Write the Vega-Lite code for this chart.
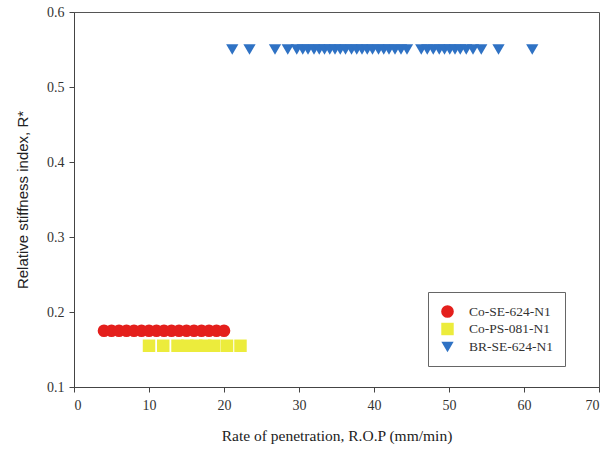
{
  "$schema": "https://vega.github.io/schema/vega-lite/v6.json",
  "width": 525,
  "height": 375,
  "autosize": {"type": "none"},
  "padding": {"left": 74, "top": 12, "right": 14, "bottom": 67},
  "background": "white",
  "config": {
    "view": {"stroke": "#555", "strokeWidth": 1},
    "axis": {"grid": false, "domainColor": "#444", "tickColor": "#444", "labelColor": "#333", "titleColor": "#222", "titleFontWeight": "normal", "tickSize": 5}
  },
  "data": {"values": [
    {"s": "Co-SE-624-N1", "x": 4, "y": 0.175},
    {"s": "Co-SE-624-N1", "x": 5, "y": 0.175},
    {"s": "Co-SE-624-N1", "x": 6, "y": 0.175},
    {"s": "Co-SE-624-N1", "x": 7, "y": 0.175},
    {"s": "Co-SE-624-N1", "x": 8, "y": 0.175},
    {"s": "Co-SE-624-N1", "x": 9, "y": 0.175},
    {"s": "Co-SE-624-N1", "x": 10, "y": 0.175},
    {"s": "Co-SE-624-N1", "x": 11, "y": 0.175},
    {"s": "Co-SE-624-N1", "x": 12, "y": 0.175},
    {"s": "Co-SE-624-N1", "x": 13, "y": 0.175},
    {"s": "Co-SE-624-N1", "x": 14, "y": 0.175},
    {"s": "Co-SE-624-N1", "x": 15, "y": 0.175},
    {"s": "Co-SE-624-N1", "x": 16, "y": 0.175},
    {"s": "Co-SE-624-N1", "x": 17, "y": 0.175},
    {"s": "Co-SE-624-N1", "x": 18, "y": 0.175},
    {"s": "Co-SE-624-N1", "x": 19, "y": 0.175},
    {"s": "Co-SE-624-N1", "x": 20, "y": 0.175},
    {"s": "Co-PS-081-N1", "x": 10, "y": 0.155},
    {"s": "Co-PS-081-N1", "x": 11.9, "y": 0.155},
    {"s": "Co-PS-081-N1", "x": 13.8, "y": 0.155},
    {"s": "Co-PS-081-N1", "x": 15.1, "y": 0.155},
    {"s": "Co-PS-081-N1", "x": 16.3, "y": 0.155},
    {"s": "Co-PS-081-N1", "x": 17.5, "y": 0.155},
    {"s": "Co-PS-081-N1", "x": 18.7, "y": 0.155},
    {"s": "Co-PS-081-N1", "x": 20.4, "y": 0.155},
    {"s": "Co-PS-081-N1", "x": 22.2, "y": 0.155},
    {"s": "BR-SE-624-N1", "x": 21.1, "y": 0.55},
    {"s": "BR-SE-624-N1", "x": 23.4, "y": 0.55},
    {"s": "BR-SE-624-N1", "x": 26.8, "y": 0.55},
    {"s": "BR-SE-624-N1", "x": 28.5, "y": 0.55},
    {"s": "BR-SE-624-N1", "x": 29.7, "y": 0.55},
    {"s": "BR-SE-624-N1", "x": 30.5, "y": 0.55},
    {"s": "BR-SE-624-N1", "x": 31.2, "y": 0.55},
    {"s": "BR-SE-624-N1", "x": 32, "y": 0.55},
    {"s": "BR-SE-624-N1", "x": 32.7, "y": 0.55},
    {"s": "BR-SE-624-N1", "x": 33.4, "y": 0.55},
    {"s": "BR-SE-624-N1", "x": 34.1, "y": 0.55},
    {"s": "BR-SE-624-N1", "x": 34.8, "y": 0.55},
    {"s": "BR-SE-624-N1", "x": 35.5, "y": 0.55},
    {"s": "BR-SE-624-N1", "x": 36.2, "y": 0.55},
    {"s": "BR-SE-624-N1", "x": 37, "y": 0.55},
    {"s": "BR-SE-624-N1", "x": 37.7, "y": 0.55},
    {"s": "BR-SE-624-N1", "x": 38.4, "y": 0.55},
    {"s": "BR-SE-624-N1", "x": 39.1, "y": 0.55},
    {"s": "BR-SE-624-N1", "x": 39.8, "y": 0.55},
    {"s": "BR-SE-624-N1", "x": 40.6, "y": 0.55},
    {"s": "BR-SE-624-N1", "x": 41.3, "y": 0.55},
    {"s": "BR-SE-624-N1", "x": 42, "y": 0.55},
    {"s": "BR-SE-624-N1", "x": 42.8, "y": 0.55},
    {"s": "BR-SE-624-N1", "x": 43.6, "y": 0.55},
    {"s": "BR-SE-624-N1", "x": 44.4, "y": 0.55},
    {"s": "BR-SE-624-N1", "x": 46.3, "y": 0.55},
    {"s": "BR-SE-624-N1", "x": 47.1, "y": 0.55},
    {"s": "BR-SE-624-N1", "x": 47.9, "y": 0.55},
    {"s": "BR-SE-624-N1", "x": 48.7, "y": 0.55},
    {"s": "BR-SE-624-N1", "x": 49.4, "y": 0.55},
    {"s": "BR-SE-624-N1", "x": 50.1, "y": 0.55},
    {"s": "BR-SE-624-N1", "x": 50.8, "y": 0.55},
    {"s": "BR-SE-624-N1", "x": 51.5, "y": 0.55},
    {"s": "BR-SE-624-N1", "x": 52.3, "y": 0.55},
    {"s": "BR-SE-624-N1", "x": 53.2, "y": 0.55},
    {"s": "BR-SE-624-N1", "x": 54.3, "y": 0.55},
    {"s": "BR-SE-624-N1", "x": 56.6, "y": 0.55},
    {"s": "BR-SE-624-N1", "x": 61.1, "y": 0.55}
  ]},
  "mark": {"type": "point", "filled": true, "opacity": 1},
  "encoding": {
    "x": {"field": "x", "type": "quantitative", "scale": {"domain": [0, 70], "nice": false},
      "axis": {"values": [0, 10, 20, 30, 40, 50, 60, 70], "labelFont": "Liberation Serif", "labelFontSize": 14, "title": "Rate of penetration, R.O.P (mm/min)", "titleFont": "Liberation Serif", "titleFontSize": 15.5, "titlePadding": 16, "labelPadding": 6}},
    "y": {"field": "y", "type": "quantitative", "scale": {"domain": [0.1, 0.6], "nice": false, "zero": false},
      "axis": {"values": [0.1, 0.2, 0.3, 0.4, 0.5, 0.6], "format": ".1f", "labelFont": "Liberation Serif", "labelFontSize": 14, "title": "Relative stiffness index, R*", "titleFont": "Liberation Sans", "titleFontSize": 15, "titlePadding": 16, "labelPadding": 5}},
    "color": {"field": "s", "type": "nominal",
      "scale": {"domain": ["Co-SE-624-N1", "Co-PS-081-N1", "BR-SE-624-N1"], "range": ["#e41f1c", "#ecec3c", "#2f72c4"]},
      "legend": {"title": null, "orient": "none", "legendX": 354, "legendY": 280, "strokeColor": "#666", "padding": 12, "labelFont": "Liberation Serif", "labelFontSize": 13.5, "labelColor": "#333", "symbolSize": 170, "rowPadding": 4, "labelOffset": 14}},
    "shape": {"field": "s", "type": "nominal",
      "scale": {"domain": ["Co-SE-624-N1", "Co-PS-081-N1", "BR-SE-624-N1"], "range": ["circle", "square", "triangle-down"]},
      "legend": null},
    "size": {"field": "s", "type": "nominal",
      "scale": {"domain": ["Co-SE-624-N1", "Co-PS-081-N1", "BR-SE-624-N1"], "range": [160, 150, 175]},
      "legend": null}
  }
}
